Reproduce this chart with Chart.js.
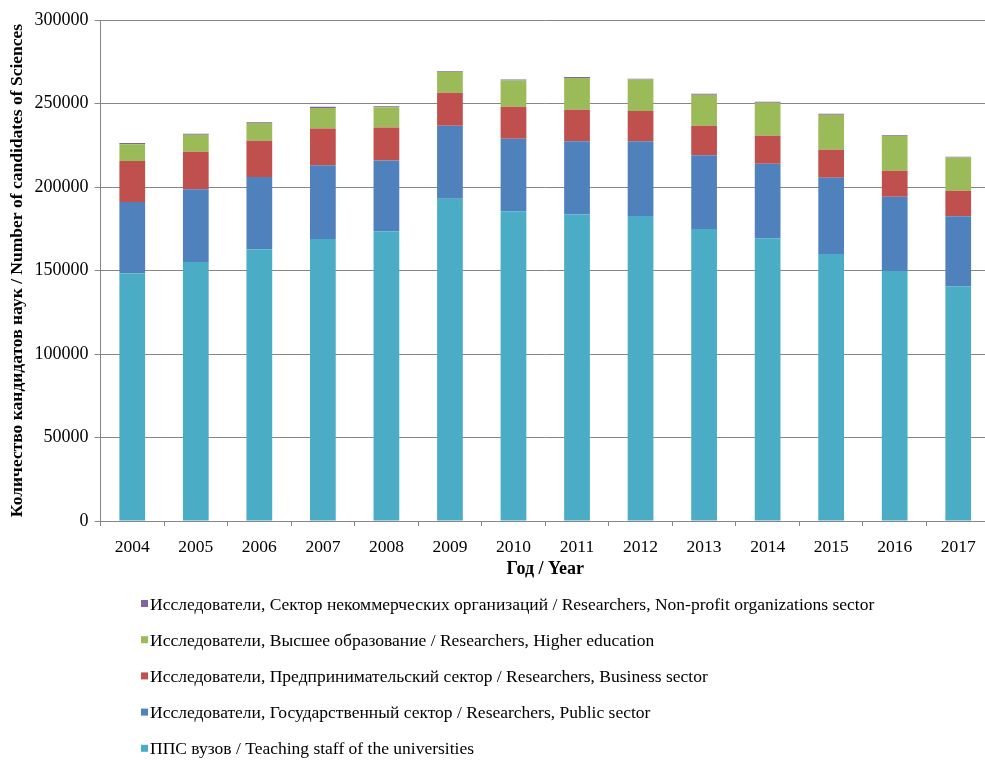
<!DOCTYPE html>
<html>
<head>
<meta charset="utf-8">
<script src="https://cdn.jsdelivr.net/npm/chart.js@4.4.1/dist/chart.umd.min.js"></script>
<style>
    html, body { margin: 0; padding: 0; background: #fff; overflow: hidden; }
    canvas { display: block; }
</style>
</head>
<body>
<canvas id="barChart" width="995" height="762"></canvas>
<script>
// Years on the category axis
const years = ['2004', '2005', '2006', '2007', '2008', '2009', '2010',
               '2011', '2012', '2013', '2014', '2015', '2016', '2017'];

// Stacked series, bottom to top
const teachingStaff = [148300, 155100, 162700, 168900, 173500, 193000, 185500,
                       183600, 182600, 174800, 169300, 159900, 149700, 140500];
const publicSector = [42700, 43500, 43300, 44100, 42300, 43700, 43400,
                      43800, 44800, 44200, 44600, 45700, 44500, 42000];
const businessSector = [24600, 22500, 21700, 22000, 19800, 19800, 19200,
                        18900, 18100, 17700, 16800, 16700, 15600, 15300];
const higherEducation = [10000, 10200, 10600, 12300, 12100, 12500, 15600,
                         19000, 18800, 18600, 19800, 21000, 20700, 19800];
const nonProfitSector = [700, 600, 500, 700, 600, 500, 600,
                         500, 500, 500, 500, 500, 500, 500];

const seriesNames = [
    'ППС вузов / Teaching staff of the universities',
    'Исследователи, Государственный сектор / Researchers, Public sector',
    'Исследователи, Предпринимательский сектор / Researchers, Business sector',
    'Исследователи, Высшее образование / Researchers, Higher education',
    'Исследователи, Сектор некоммерческих организаций / Researchers, Non-profit organizations sector'
];

const yTicks = [0, 50000, 100000, 150000, 200000, 250000, 300000];

const FONT = '"Liberation Serif", "Times New Roman", serif';
const AXIS_GREY = '#868686';

// Legend drawn as a single column under the axis title
const columnLegend = {
    id: 'columnLegend',
    afterDraw(chart) {
        const ctx = chart.ctx;
        const items = chart.data.datasets.slice().reverse();
        ctx.save();
        ctx.font = '17.5px ' + FONT;
        ctx.textBaseline = 'middle';
        ctx.textAlign = 'left';
        items.forEach(function (ds, i) {
            const y = 604 + i * 36.2;
            ctx.fillStyle = ds.backgroundColor;
            ctx.fillRect(141, y - 4, 7, 7);
            ctx.fillStyle = '#000';
            ctx.fillText(ds.label, 150, y + 1);
        });
        ctx.restore();
    }
};

const colors = ['#4BACC6', '#4F81BD', '#C0504D', '#9BBB59', '#8064A2'];
const values = [teachingStaff, publicSector, businessSector, higherEducation, nonProfitSector];

const ctx = document.getElementById('barChart').getContext('2d');

window.myChart = new Chart(ctx, {
    type: 'bar',
    data: {
        labels: years,
        datasets: values.map(function (data, i) {
            return {
                label: seriesNames[i],
                data: data,
                backgroundColor: colors[i],
                borderWidth: 0,
                categoryPercentage: 1,
                barPercentage: 0.405
            };
        })
    },
    options: {
        responsive: false,
        animation: false,
        devicePixelRatio: 1,
        layout: {
            padding: { top: 20, right: 5, bottom: 178, left: 0 }
        },
        plugins: {
            legend: { display: false },
            title: { display: false },
            tooltip: { enabled: false }
        },
        scales: {
            x: {
                stacked: true,
                offset: true,
                border: { display: true, color: AXIS_GREY, width: 1 },
                grid: {
                    offset: true,
                    drawOnChartArea: false,
                    drawTicks: true,
                    tickLength: 5,
                    color: AXIS_GREY
                },
                ticks: {
                    color: '#000',
                    font: { family: FONT, size: 17.5 },
                    padding: 11,
                    maxRotation: 0
                },
                title: {
                    display: true,
                    text: 'Год / Year',
                    color: '#000',
                    font: { family: FONT, size: 18, weight: 'bold' },
                    padding: { top: 0, bottom: 4 }
                },
                afterFit: function (scale) { scale.height = 63; }
            },
            y: {
                stacked: true,
                min: 0,
                max: 300000,
                border: { display: true, color: AXIS_GREY, width: 1 },
                grid: {
                    color: AXIS_GREY,
                    tickLength: 6
                },
                afterBuildTicks: function (scale) {
                    scale.ticks = yTicks.map(function (v) { return { value: v }; });
                },
                ticks: {
                    color: '#000',
                    font: { family: FONT, size: 18 },
                    padding: 6,
                    callback: function (value) { return String(value); }
                },
                title: {
                    display: true,
                    text: 'Количество кандидатов наук / Number of candidates of Sciences',
                    color: '#000',
                    font: { family: FONT, size: 17.5, weight: 'bold' },
                    padding: { top: 7, bottom: 0 }
                },
                afterFit: function (scale) { scale.width = 100.5; }
            }
        }
    },
    plugins: [columnLegend]
});
</script>
</body>
</html>
